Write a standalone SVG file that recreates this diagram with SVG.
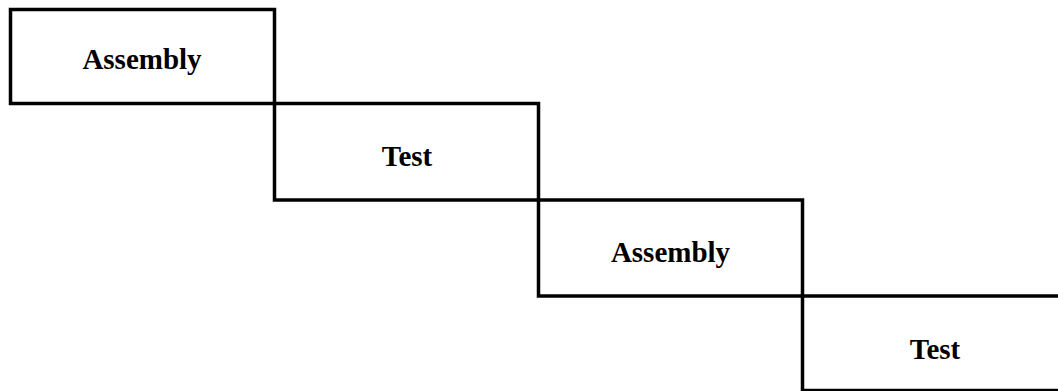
<svg xmlns="http://www.w3.org/2000/svg" width="1058" height="391" viewBox="0 0 1058 391">
<style>
.box{fill:none;stroke:#000;stroke-width:3.5}
.lbl{font-family:"Liberation Serif",serif;font-weight:bold;font-size:29px;text-anchor:middle;fill:#000}
</style>
<rect width="1058" height="391" fill="#fff"/>
<g id="n1"><rect class="box" x="10.5" y="9.5" width="264" height="94"/><text class="lbl" x="142" y="69">Assembly</text></g>
<g id="n2"><rect class="box" x="274.5" y="103.5" width="264" height="96.5"/><text class="lbl" x="407" y="165.5">Test</text></g>
<g id="n3"><rect class="box" x="538.5" y="200" width="264" height="96"/><text class="lbl" x="670.5" y="262">Assembly</text></g>
<g id="n4"><rect class="box" x="802.5" y="296" width="264" height="94.5"/><text class="lbl" x="935" y="358.5">Test</text></g>
<g id="connectors"></g>
</svg>
